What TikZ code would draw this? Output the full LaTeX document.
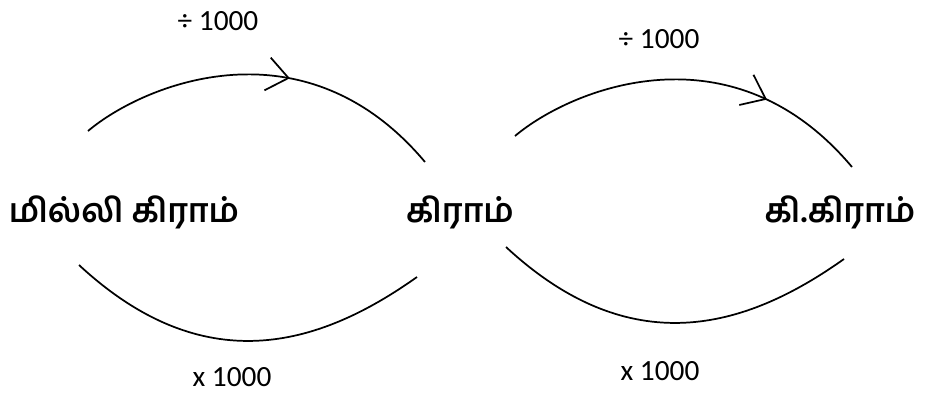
\documentclass[tikz,border=0pt]{standalone}
\usepackage{fontspec}
\setmainfont{Carlito}
\newfontfamily\tamilfont[Script=Tamil]{Hind Madurai}
\usepackage{tikz}
\usetikzlibrary{arrows.meta,decorations.markings}

\tikzset{
  unit/.style={font=\tamilfont\bfseries\fontsize{25}{29}\selectfont,inner sep=0pt},
  factor/.style={font=\fontsize{22}{26}\selectfont,inner sep=0pt},
  conv/.style={line width=1.3pt},
  midarrow/.style={postaction={decorate,decoration={markings,
    mark=at position #1 with {\arrow[line width=1.3pt]{Straight Barb[length=16pt,width=25pt]}}}}}
}

\begin{document}
\begin{tikzpicture}[x=0.75pt,y=-0.75pt]
\useasboundingbox (0,0) rectangle (926,394);
% units
\node[unit](mg) at (124,212){மில்லி கிராம்};
\node[unit](g) at (460,212){கிராம்};
\node[unit](kg) at (840,212){கி.கிராம்};
% factors
\node[factor](div1) at (218,21){÷ 1000};
\node[factor](div2) at (659,39){÷ 1000};
\node[factor](mul1) at (232,377){x 1000};
\node[factor](mul2) at (660,371){x 1000};
% arc ends
\coordinate (t1s) at (88,131); \coordinate (t1e) at (425,162);
\coordinate (t2s) at (515,136); \coordinate (t2e) at (852,167);
\coordinate (b1s) at (79,265); \coordinate (b1e) at (417,277);
\coordinate (b2s) at (506,247); \coordinate (b2e) at (844,259);
% arcs
\draw[conv,midarrow=0.57](t1s) .. controls (145,83) and (305,19) .. (t1e);
\draw[conv,midarrow=0.71](t2s) .. controls (572,88) and (732,24) .. (t2e);
\draw[conv](b1s) .. controls (203,380) and (317,348) .. (b1e);
\draw[conv](b2s) .. controls (630,362) and (744,330) .. (b2e);
\end{tikzpicture}
\end{document}
